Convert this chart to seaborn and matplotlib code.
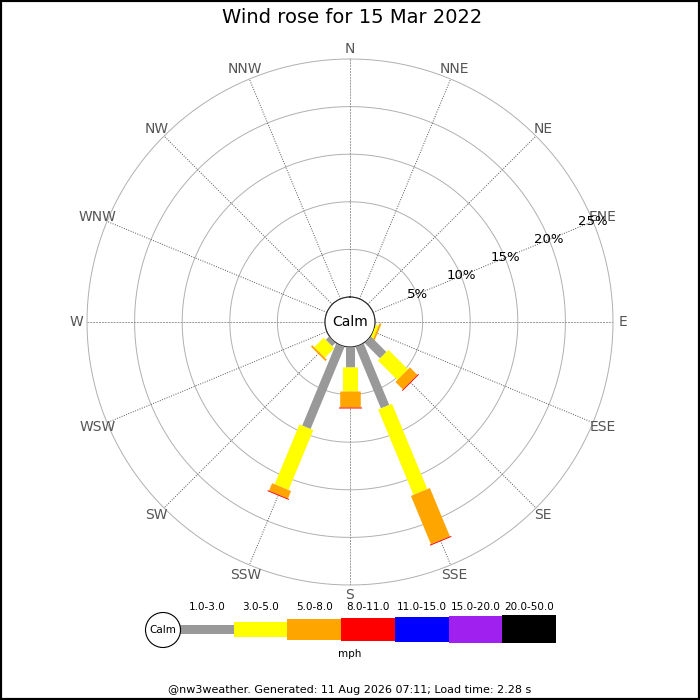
import numpy as np
import matplotlib
matplotlib.use('Agg')
import matplotlib.pyplot as plt
from matplotlib.patches import Circle, Rectangle
import seaborn as sns

# wind directions (16 points) and speed bands (mph)
directions = ['N', 'NNE', 'NE', 'ENE', 'E', 'ESE', 'SE', 'SSE',
              'S', 'SSW', 'SW', 'WSW', 'W', 'WNW', 'NW', 'NNW']
speed_bins = ['1.0-3.0', '3.0-5.0', '5.0-8.0', '8.0-11.0',
              '11.0-15.0', '15.0-20.0', '20.0-50.0']

# percent of time per direction for each band
pct_1_3 = [0, 0, 0, 0, 0, 0.0, 2.3, 7.0, 2.1, 9.35, 0.5, 0, 0, 0, 0, 0]
pct_3_5 = [0, 0, 0, 0, 0, 0.3, 2.9, 9.7, 2.5, 6.8, 1.4, 0, 0, 0, 0, 0]
pct_5_8 = [0, 0, 0, 0, 0, 0.2, 1.1, 5.5, 1.7, 0.85, 0.2, 0, 0, 0, 0, 0]
pct_8_11 = [0, 0, 0, 0, 0, 0, 0.1, 0.1, 0.1, 0.1, 0, 0, 0, 0, 0, 0]
pct_11_15 = [0] * 16
pct_15_20 = [0] * 16
pct_20_50 = [0] * 16
bands = [pct_1_3, pct_3_5, pct_5_8, pct_8_11, pct_11_15, pct_15_20, pct_20_50]

ring_pcts = [5, 10, 15, 20, 25]
ring_labels = ['5%', '10%', '15%', '20%', '25%']

sns.set_style('white')
colours = sns.color_palette(['#999999', '#ffff00', '#ffa500', '#ff0000',
                             '#0000ff', '#a020f0', '#000000'])
# line widths of the bars in points (pixel thickness * 0.72)
band_lw = [6.5, 10.8, 14.8, 16.6, 18.0, 19.4, 20.2]
band_px = [9, 15, 21, 23, 25, 27, 28]

fig = plt.figure(figsize=(7, 7), dpi=100)
fig.patch.set_facecolor('white')

ax = fig.add_axes([0.1243, 0.1643, 0.7514, 0.7514], projection='polar')
ax.set_theta_zero_location('N')
ax.set_theta_direction(-1)
ax.set_rorigin(-2.63)
ax.set_ylim(0, 25)
ax.set_xticks([])
ax.set_yticks([])
ax.grid(False)
for sp in ax.spines.values():
    sp.set_visible(False)

theta = np.deg2rad(np.arange(16) * 22.5)
full = np.linspace(0, 2 * np.pi, 361)

# rings
for r in ring_pcts:
    ax.plot(full, [r] * len(full), color='#b0b0b0', lw=0.7, zorder=1, clip_on=False)
# calm circle edge
ax.plot(full, [0] * len(full), color='#b0b0b0', lw=0.7, zorder=1, clip_on=False)

# spokes
for i, th in enumerate(theta):
    if i % 4 == 0:
        ax.plot([th, th], [0, 25], color='#999999', lw=0.7, ls=(0, (2, 1)), zorder=1)
    else:
        ax.plot([th, th], [0, 25], color='#555555', lw=0.7, ls=(0, (1, 1.5)), zorder=1)

# direction labels
for th, name in zip(theta, directions):
    ax.text(th, 26.1, name, ha='center', va='center', fontsize=10, color='#555555')

# percentage labels along ENE spoke
for r, lab in zip(ring_pcts, ring_labels):
    ax.text(theta[3], r, lab, ha='center', va='center', fontsize=9.5, color='black', zorder=5)

# stacked bars
for i, th in enumerate(theta):
    start = 0
    for k, band in enumerate(bands):
        v = band[i]
        if v > 0:
            ax.plot([th, th], [start, start + v], color=colours[k], lw=band_lw[k],
                    solid_capstyle='butt', zorder=3)
            start += v

ax.text(0.5, 0.5, 'Calm', transform=ax.transAxes, ha='center', va='center',
        fontsize=10, color='black', zorder=6)

# title
fig.text(0.503, 0.975, 'Wind rose for 15 Mar 2022', ha='center', va='center',
         fontsize=14, color='black')

# legend drawn in pixel coordinates
leg = fig.add_axes([0, 0, 1, 1])
leg.set_xlim(0, 700)
leg.set_ylim(700, 0)
leg.axis('off')
x0, x1, yc = 180, 556, 629
seg = (x1 - x0) / len(speed_bins)
centres = [x0 + seg * (k + 0.5) for k in range(len(speed_bins))]
leg.bar(centres, band_px, width=seg, bottom=[yc - h / 2 for h in band_px],
        color=colours, linewidth=0)
for c, lab in zip(centres, speed_bins):
    leg.text(c, 607, lab, ha='center', va='center', fontsize=7.5, color='black')
leg.add_patch(Circle((163, 630), 17.5, facecolor='white', edgecolor='black', lw=0.8))
leg.text(163, 630, 'Calm', ha='center', va='center', fontsize=7.5, color='black')
leg.text(350, 654, 'mph', ha='center', va='center', fontsize=7.5, color='black')
leg.text(350, 690, '@nw3weather. Generated: 11 Aug 2026 07:11; Load time: 2.28 s',
         ha='center', va='center', fontsize=8, color='black')

fig.patches.append(Rectangle((0, 0), 1, 1, transform=fig.transFigure, fill=False,
                             edgecolor='black', lw=3))

fig.savefig('out.png', dpi=100)
